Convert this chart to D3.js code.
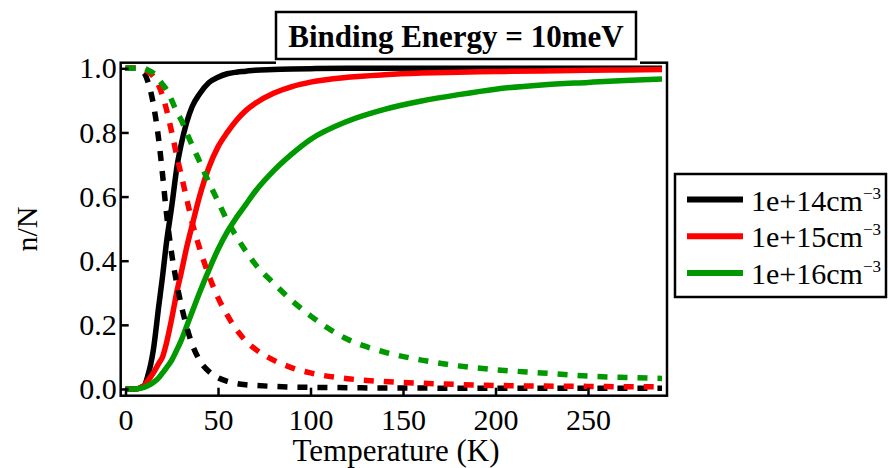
<!DOCTYPE html>
<html>
<head>
<meta charset="utf-8">
<script src="https://cdn.jsdelivr.net/npm/d3@7"></script>
<style>
  body { margin: 0; background: #fff; }
  svg { display: block; font-family: "Liberation Serif", "DejaVu Serif", serif; }
</style>
</head>
<body>
<svg width="888" height="468"></svg>
<script>
// temperatures (K) shared by all curves
var temps = [0, 5, 10, 12, 15, 18, 20, 22, 25, 28, 30, 33, 36, 40, 45, 50, 55, 60, 65, 70,
             80, 90, 100, 120, 140, 160, 180, 200, 225, 250, 270, 290];

// solid = ionised fraction, dashed = neutral fraction
var blackSolid  = [0, 0, 0.01, 0.04, 0.12, 0.26, 0.35, 0.45, 0.57, 0.70, 0.76, 0.83, 0.88, 0.92, 0.955, 0.972, 0.983, 0.988, 0.991, 0.994,
                   0.996, 0.998, 0.999, 1, 1, 1, 1, 1, 1, 1, 1, 1];
var blackDashed = [1, 1, 0.985, 0.96, 0.89, 0.775, 0.67, 0.555, 0.42, 0.32, 0.265, 0.195, 0.14, 0.09, 0.055, 0.035, 0.024, 0.017, 0.013, 0.011,
                   0.008, 0.006, 0.005, 0.004, 0.003, 0.003, 0.002, 0.002, 0.002, 0.002, 0.002, 0.002];
var redSolid    = [0, 0, 0.01, 0.025, 0.05, 0.08, 0.10, 0.14, 0.22, 0.31, 0.36, 0.44, 0.51, 0.60, 0.69, 0.755, 0.80, 0.838, 0.868, 0.89,
                   0.922, 0.943, 0.957, 0.972, 0.98, 0.985, 0.988, 0.99, 0.992, 0.994, 0.995, 0.996];
var redDashed   = [1, 1, 0.995, 0.99, 0.975, 0.945, 0.915, 0.875, 0.80, 0.72, 0.67, 0.595, 0.52, 0.44, 0.355, 0.285, 0.23, 0.185, 0.15, 0.125,
                   0.09, 0.066, 0.05, 0.032, 0.023, 0.018, 0.014, 0.011, 0.009, 0.008, 0.007, 0.007];
var greenSolid  = [0, 0, 0.005, 0.01, 0.02, 0.035, 0.05, 0.065, 0.09, 0.125, 0.15, 0.195, 0.24, 0.30, 0.37, 0.435, 0.49, 0.535, 0.575, 0.615,
                   0.68, 0.733, 0.778, 0.835, 0.872, 0.898, 0.918, 0.935, 0.948, 0.956, 0.962, 0.967];
var greenDashed = [1, 1, 1, 0.995, 0.985, 0.965, 0.95, 0.935, 0.90, 0.86, 0.84, 0.80, 0.76, 0.71, 0.645, 0.585, 0.525, 0.475, 0.43, 0.39,
                   0.33, 0.275, 0.228, 0.155, 0.115, 0.09, 0.072, 0.06, 0.05, 0.04, 0.036, 0.033];

var xTicks = [0, 50, 100, 150, 200, 250];
var yTicks = [0, 0.2, 0.4, 0.6, 0.8, 1.0];

var seriesNames  = ["1e+14cm", "1e+15cm", "1e+16cm"];
var seriesColors = ["#000000", "#ff0000", "#009900"];

var titleText = "Binding Energy = 10meV";
var xTitle = "Temperature (K)";
var yTitle = "n/N";

var svg = d3.select("svg");

var frame = {left: 120.7, right: 667, top: 62.7, bottom: 395.7};

var x = d3.scaleLinear().domain([-2.6, 292.7]).range([frame.left, frame.right]);
var y = d3.scaleLinear().domain([-0.021, 1.0175]).range([frame.bottom, frame.top]);

var line = d3.line()
    .x(function(d) { return x(d[0]); })
    .y(function(d) { return y(d[1]); })
    .curve(d3.curveMonotoneX);

function pts(vals) { return temps.map(function(t, i) { return [t, vals[i]]; }); }

var curves = [
  {vals: blackSolid,  color: seriesColors[0], dash: null},
  {vals: redSolid,    color: seriesColors[1], dash: null},
  {vals: greenSolid,  color: seriesColors[2], dash: null},
  {vals: blackDashed, color: seriesColors[0], dash: "10,10"},
  {vals: redDashed,   color: seriesColors[1], dash: "10,10"},
  {vals: greenDashed, color: seriesColors[2], dash: "10,10"}
];

svg.selectAll("path.curve")
  .data(curves)
  .enter().append("path")
    .attr("class", "curve")
    .attr("d", function(d) { return line(pts(d.vals)); })
    .attr("fill", "none")
    .attr("stroke", function(d) { return d.color; })
    .attr("stroke-width", 5.5)
    .attr("stroke-dasharray", function(d) { return d.dash; });

// frame
svg.append("rect")
    .attr("x", frame.left).attr("y", frame.top)
    .attr("width", frame.right - frame.left).attr("height", frame.bottom - frame.top)
    .attr("fill", "none").attr("stroke", "#000").attr("stroke-width", 2.5);

// axes, ticks pointing inward
var xAxis = svg.append("g")
    .attr("transform", "translate(0," + frame.bottom + ")")
    .call(d3.axisBottom(x).tickValues(xTicks).tickSizeInner(-8).tickSizeOuter(0).tickFormat(d3.format("d")));
xAxis.select(".domain").remove();
xAxis.selectAll("line").attr("stroke", "#000").attr("stroke-width", 2.5);
xAxis.selectAll("text")
    .attr("y", 34.5).attr("dy", null)
    .attr("font-size", 30).attr("font-family", "Liberation Serif").attr("fill", "#000");

var yAxis = svg.append("g")
    .attr("transform", "translate(" + frame.left + ",0)")
    .call(d3.axisLeft(y).tickValues(yTicks).tickSizeInner(-8).tickSizeOuter(0).tickFormat(d3.format(".1f")));
yAxis.select(".domain").remove();
yAxis.selectAll("line").attr("stroke", "#000").attr("stroke-width", 2.5);
yAxis.selectAll("text")
    .attr("x", -4)
    .attr("font-size", 30).attr("font-family", "Liberation Serif").attr("fill", "#000");

// axis titles
svg.append("text")
    .attr("x", 396).attr("y", 461)
    .attr("text-anchor", "middle")
    .attr("font-size", 31)
    .text(xTitle);

svg.append("text")
    .attr("transform", "translate(37,229) rotate(-90)")
    .attr("text-anchor", "middle")
    .attr("font-size", 30)
    .text(yTitle);

// title box
svg.append("rect")
    .attr("x", 276).attr("y", 4).attr("width", 364).attr("height", 61)
    .attr("fill", "#fff");
svg.append("rect")
    .attr("x", 276).attr("y", 12).attr("width", 360).attr("height", 47)
    .attr("fill", "#fff").attr("stroke", "#000").attr("stroke-width", 2.5);
svg.append("text")
    .attr("x", 456).attr("y", 47)
    .attr("text-anchor", "middle")
    .attr("font-size", 31).attr("font-weight", "bold")
    .text(titleText);

// legend
var legend = svg.append("g");
legend.append("rect")
    .attr("x", 675).attr("y", 174).attr("width", 211).attr("height", 123)
    .attr("fill", "#fff").attr("stroke", "#000").attr("stroke-width", 2.5);

var item = legend.selectAll("g.item")
  .data(seriesNames)
  .enter().append("g")
    .attr("class", "item")
    .attr("transform", function(d, i) { return "translate(0," + (199.5 + i * 36.7) + ")"; });

item.append("line")
    .attr("x1", 687).attr("x2", 743)
    .attr("stroke", function(d, i) { return seriesColors[i]; })
    .attr("stroke-width", 6);

var lt = item.append("text")
    .attr("x", 751).attr("y", 11)
    .attr("font-size", 30);
lt.append("tspan").text(function(d) { return d; });
lt.append("tspan").attr("font-size", 17).attr("dy", -12).text("\u22123");
</script>
</body>
</html>
